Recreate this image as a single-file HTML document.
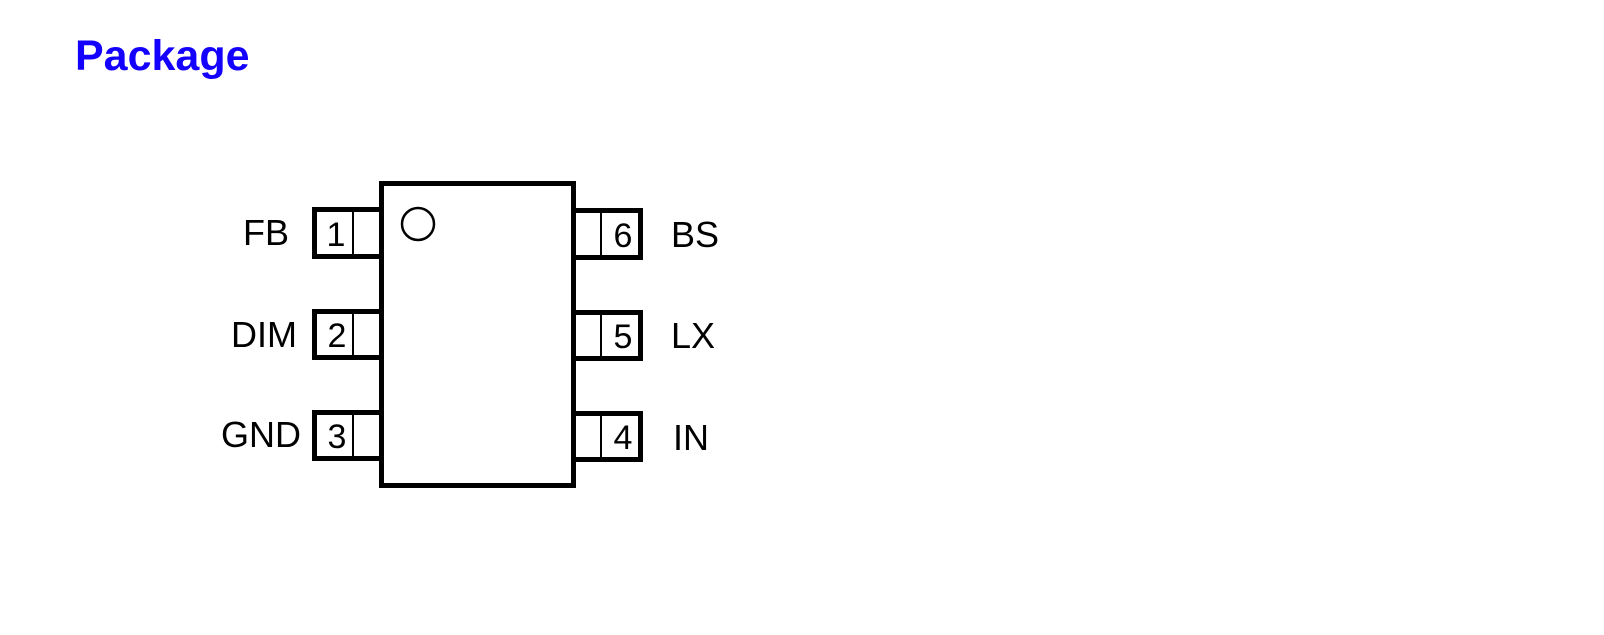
<!DOCTYPE html>
<html><head><style>
html,body{margin:0;padding:0;background:#fff;width:1604px;height:635px;overflow:hidden}
</style></head><body>
<svg width="1604" height="635" xmlns="http://www.w3.org/2000/svg" style="position:absolute;left:0;top:0">
<text x="75" y="70" font-family="Liberation Sans, sans-serif" font-weight="bold" font-size="43" fill="#1400ff">Package</text>
<g fill="none" stroke="#000">
<rect x="381.5" y="183.5" width="192" height="302" stroke-width="5"/>
<circle cx="418" cy="224" r="16" stroke-width="2.5"/>
<path d="M381 209.5 H314.5 V256.5 H381" stroke-width="5"/>
<line x1="353" y1="210" x2="353" y2="256" stroke-width="2"/>
<path d="M381 311.5 H314.5 V357.5 H381" stroke-width="5"/>
<line x1="353" y1="312" x2="353" y2="357" stroke-width="2"/>
<path d="M381 412.5 H314.5 V458.5 H381" stroke-width="5"/>
<line x1="353" y1="413" x2="353" y2="458" stroke-width="2"/>
<path d="M574 210.5 H640.5 V257.5 H574" stroke-width="5"/>
<line x1="601" y1="211" x2="601" y2="257" stroke-width="2"/>
<path d="M574 312.5 H640.5 V358.5 H574" stroke-width="5"/>
<line x1="601" y1="313" x2="601" y2="358" stroke-width="2"/>
<path d="M574 413.5 H640.5 V459.5 H574" stroke-width="5"/>
<line x1="601" y1="414" x2="601" y2="459" stroke-width="2"/>
</g>
<g font-family="Liberation Sans, sans-serif" fill="#000">
<g font-size="34" text-anchor="middle">
<text x="336" y="246">1</text>
<text x="337" y="347">2</text>
<text x="337" y="448">3</text>
<text x="623" y="247">6</text>
<text x="623" y="348">5</text>
<text x="623" y="449">4</text>
</g>
<g font-size="36" text-anchor="end">
<text x="289" y="245">FB</text>
<text x="297" y="347">DIM</text>
<text x="301" y="447">GND</text>
</g>
<g font-size="36">
<text x="671" y="247">BS</text>
<text x="671" y="348">LX</text>
<text x="673" y="450">IN</text>
</g>
</g>
</svg>
</body></html>
